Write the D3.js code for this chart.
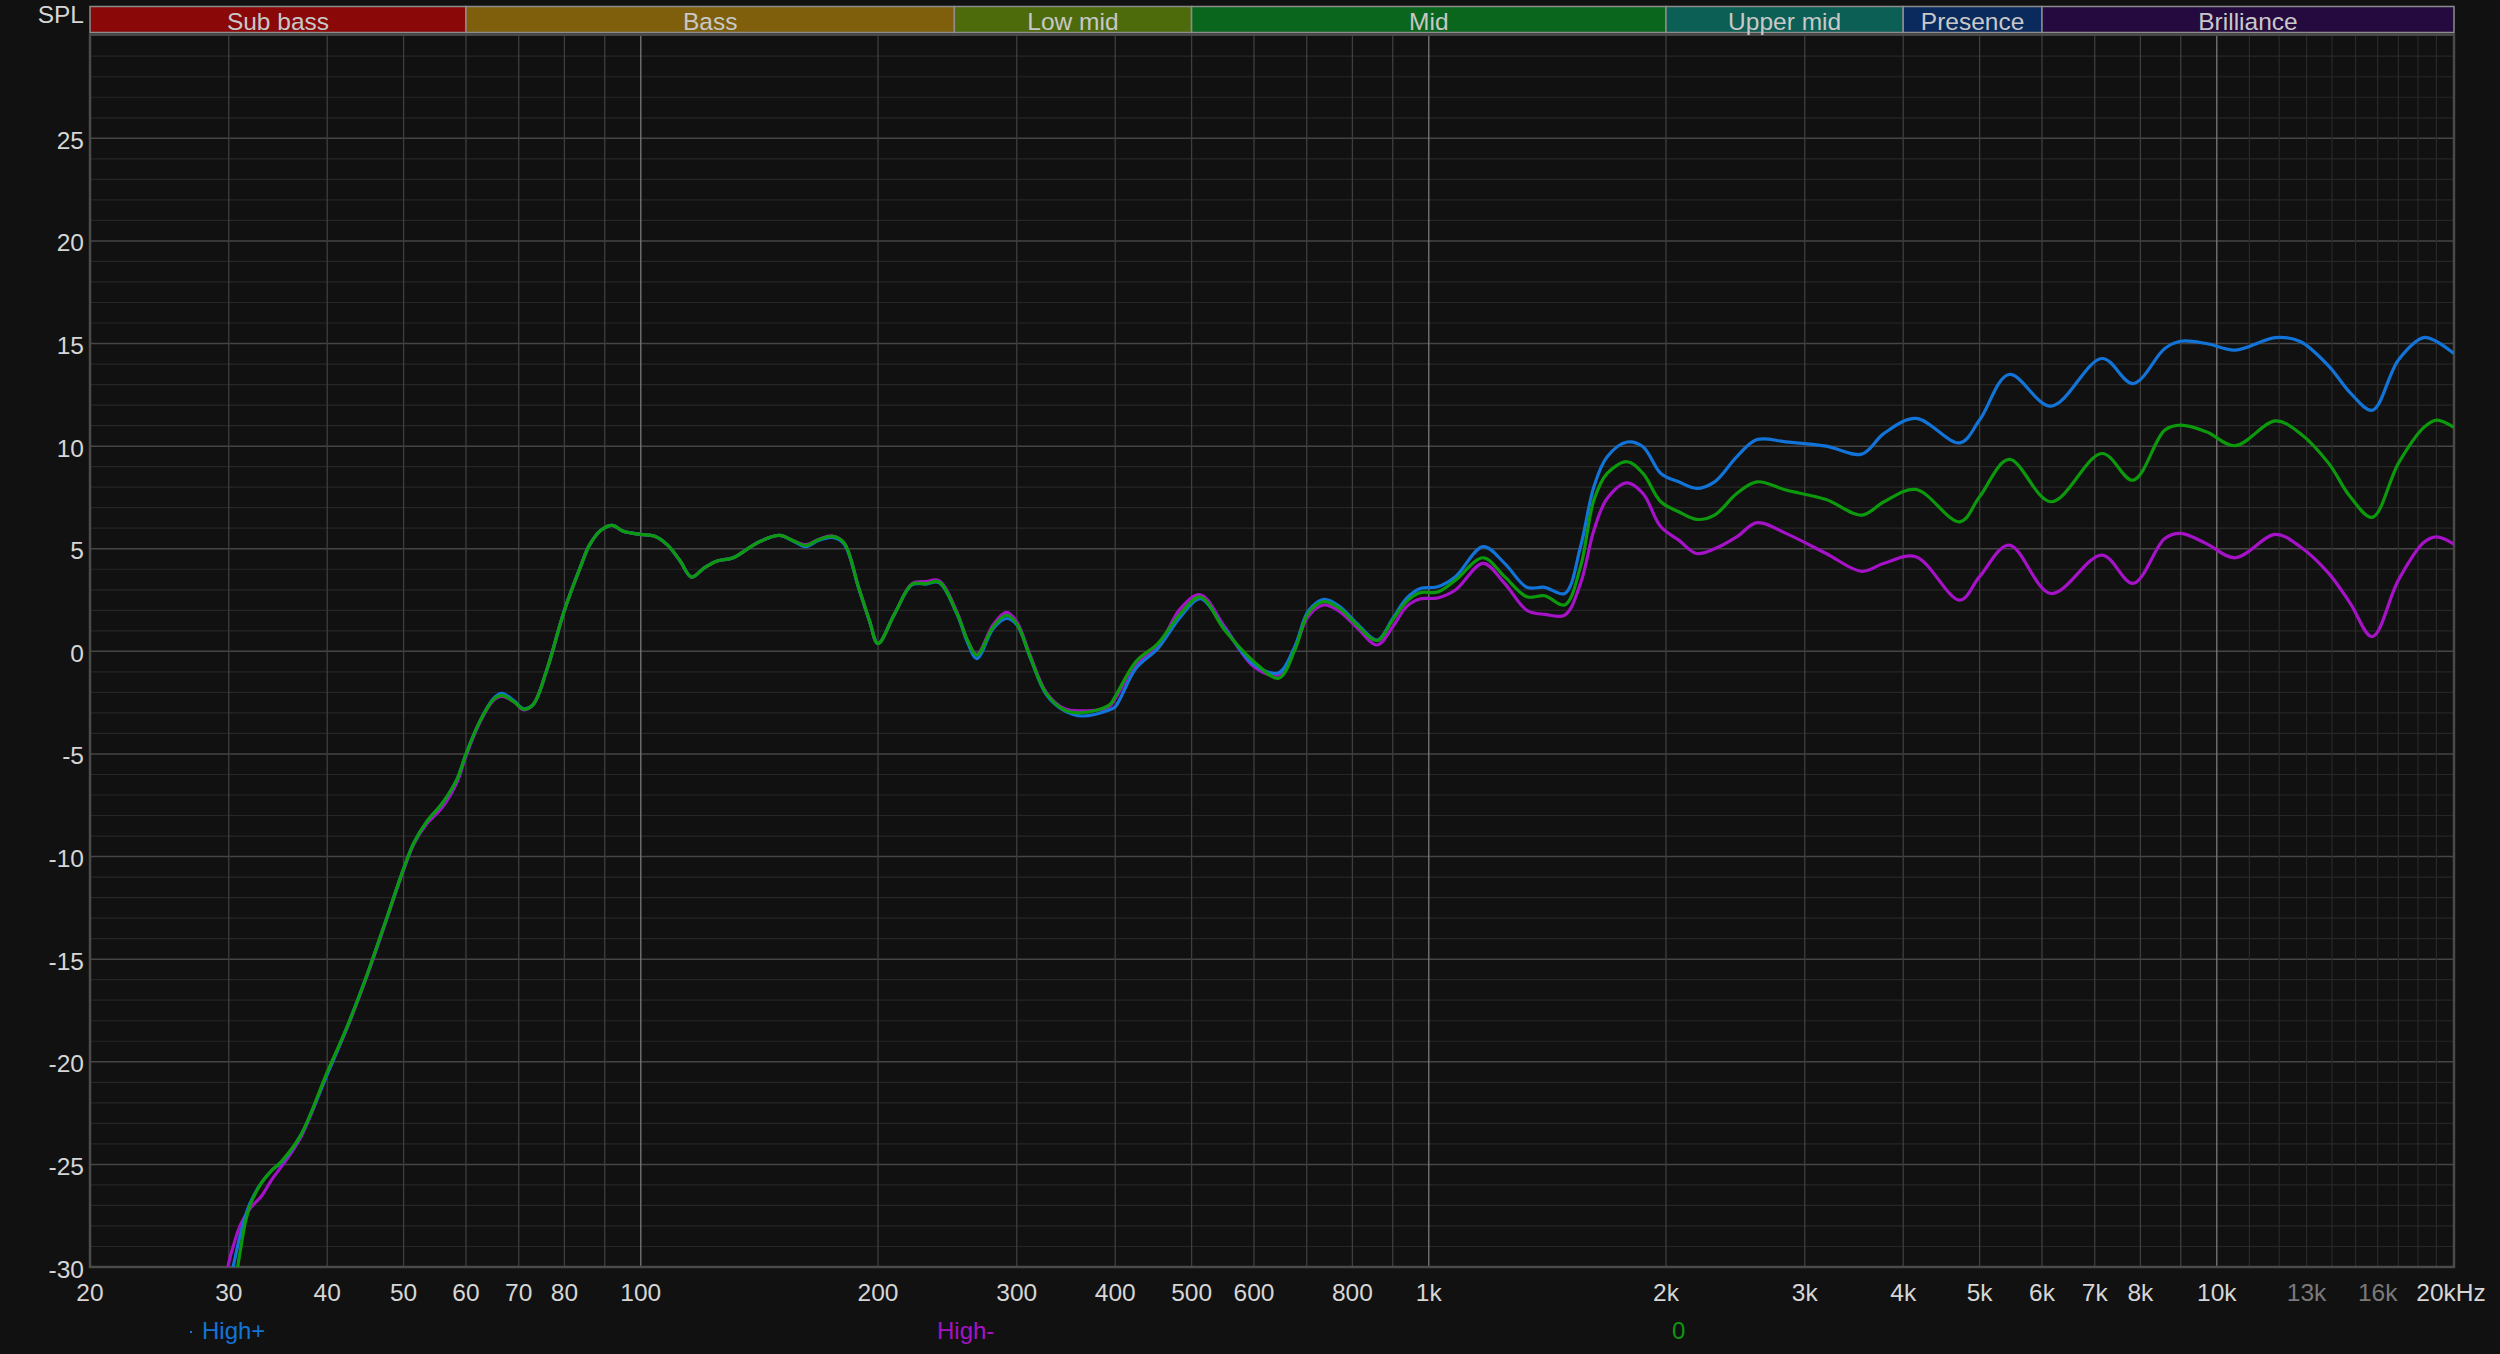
<!DOCTYPE html>
<html><head><meta charset="utf-8">
<script src="https://cdn.jsdelivr.net/npm/d3@7"></script>
<style>html,body{margin:0;padding:0;background:#111111;} svg{display:block;}</style>
</head><body>
<svg id="chart" width="2500" height="1354"></svg>
<script>
// ---------- data ----------
const freqs = [29.5,30,30.5,31,31.5,32,33,34,35,37,40,42.5,45,47.5,50,51.5,53.5,56,58.5,60,62.5,65,66.6,69,71,73,76,80,84,86,89,92,95,100,104,108,112,116,120.5,125,131,141,150,156,162,168,175,181,189,195,200,210,221,230,239,252,260,267,280,291,300,312,327,345,363,393,400,425,453,484,513,551,600,645,676,703,736,770,811,860,900,937,974,1026,1081,1172,1248,1332,1403,1488,1558,1620,1684,1786,1870,1970,2076,2187,2305,2459,2609,2839,3193,3543,3782,4150,4720,5000,5450,6160,7150,7830,8590,9000,9700,10550,11870,12760,13870,14770,15750,17000,18300,19000,20000];

const highPlus = [-33,-31.0,-29.7,-28.5,-27.5,-26.8,-25.9,-25.3,-24.9,-23.6,-20.6,-18.2,-15.7,-13.1,-10.6,-9.35,-8.3,-7.4,-6.2,-5.0,-3.4,-2.3,-2.05,-2.4,-2.8,-2.6,-0.9,2.0,4.2,5.15,5.9,6.14,5.85,5.7,5.62,5.2,4.45,3.62,4.08,4.4,4.56,5.32,5.65,5.38,5.1,5.4,5.55,5.25,3.1,1.5,0.38,1.84,3.25,3.28,3.35,1.8,0.4,-0.35,1.1,1.6,1.3,-0.3,-2.1,-2.9,-3.15,-2.86,-2.7,-0.83,0.14,1.68,2.57,1.1,-0.65,-1.04,0.23,1.95,2.53,2.2,1.35,0.55,1.6,2.58,3.05,3.15,3.64,5.1,4.29,3.12,3.12,2.82,5.1,8.02,9.48,10.2,9.97,8.67,8.26,7.94,8.26,9.48,10.32,10.21,10.0,9.61,10.62,11.35,10.16,11.27,13.49,11.95,14.27,13.05,14.76,15.11,15.0,14.68,15.29,15.1,13.9,12.6,11.75,14.2,15.29,15.1,14.51];

const highMinus = [-31.8,-29.8,-28.8,-28.0,-27.5,-27.1,-26.55,-25.75,-25.1,-23.7,-20.6,-18.25,-15.75,-13.15,-10.65,-9.4,-8.4,-7.6,-6.35,-5.1,-3.45,-2.4,-2.2,-2.45,-2.85,-2.6,-0.9,2.0,4.2,5.15,5.9,6.14,5.85,5.7,5.62,5.2,4.45,3.62,4.08,4.4,4.56,5.32,5.65,5.4,5.2,5.45,5.62,5.3,3.1,1.5,0.38,1.84,3.3,3.4,3.45,1.9,0.5,-0.15,1.3,1.9,1.45,-0.2,-2.0,-2.8,-2.9,-2.7,-2.3,-0.66,0.22,2.08,2.76,1.19,-0.75,-1.15,0.15,1.7,2.26,1.95,1.15,0.31,1.2,2.18,2.55,2.6,2.99,4.29,3.31,2.0,1.8,1.77,3.31,5.9,7.45,8.21,7.69,6.07,5.42,4.77,5.0,5.58,6.27,5.75,4.77,3.9,4.29,4.61,2.5,3.64,5.18,2.82,4.69,3.31,5.5,5.75,5.25,4.56,5.7,5.1,3.8,2.34,0.72,3.47,5.3,5.58,5.23];

const zeroCurve = [-34,-32.5,-31.0,-29.3,-27.8,-26.9,-25.9,-25.3,-24.85,-23.6,-20.5,-18.2,-15.7,-13.1,-10.6,-9.35,-8.3,-7.4,-6.2,-5.0,-3.4,-2.35,-2.15,-2.45,-2.82,-2.6,-0.9,2.0,4.2,5.15,5.9,6.14,5.85,5.7,5.62,5.2,4.45,3.62,4.08,4.4,4.56,5.32,5.65,5.4,5.16,5.44,5.6,5.3,3.1,1.52,0.38,1.84,3.27,3.3,3.38,1.84,0.5,-0.19,1.19,1.76,1.35,-0.27,-2.05,-2.86,-2.99,-2.62,-2.2,-0.5,0.38,1.84,2.65,1.03,-0.5,-1.31,0.06,1.85,2.42,2.1,1.28,0.52,1.53,2.42,2.86,2.89,3.47,4.56,3.64,2.66,2.71,2.26,4.12,7.37,8.67,9.24,8.67,7.29,6.8,6.43,6.64,7.69,8.26,7.86,7.4,6.64,7.29,7.89,6.31,7.53,9.35,7.29,9.64,8.34,10.78,11.02,10.7,10.02,11.23,10.62,9.16,7.53,6.53,9.16,10.9,11.27,10.91];

const seriesNames = ["High+","High-","0"];
const seriesColors = ["#1274d8","#a612c8","#0c990c"];

const bandNames = ["Sub bass","Bass","Low mid","Mid","Upper mid","Presence","Brilliance"];
const bandEdges = [20,60,250,500,2000,4000,6000,20000];
const bandColors = ["#8a0808","#7f5f0b","#4e6b0c","#0a661d","#0b5f55","#0a2a5e","#250a3f"];

const xTickValues = [20,30,40,50,60,70,80,100,200,300,400,500,600,800,1000,2000,3000,4000,5000,6000,7000,8000,10000,13000,16000,20000];
const xTickLabels = ["20","30","40","50","60","70","80","100","200","300","400","500","600","800","1k","2k","3k","4k","5k","6k","7k","8k","10k","13k","16k","20kHz"];
const xTickDim = [13000,16000];
const yTickValues = [-30,-25,-20,-15,-10,-5,0,5,10,15,20,25];

const gridMain = [100,1000,10000];
const gridMid = [30,40,50,60,70,80,90,200,300,400,500,600,700,800,900,2000,3000,4000,5000,6000,7000,8000,9000];
const gridFine = [11000,12000,13000,14000,15000,16000,17000,18000,19000];

// ---------- layout ----------
const L = 90, R = 2454, T = 35.7, B = 1267;
const svg = d3.select("#chart");
const FONT = "'Liberation Sans', Arial, sans-serif";

const x = d3.scaleLog().domain([20,20000]).range([L,R]);
const y = d3.scaleLinear().domain([-30,30]).range([B,T]);

svg.append("rect").attr("width",2500).attr("height",1354).attr("fill","#111111");

// horizontal grid
const minorY = d3.range(-29,30,1).filter(v => v % 5 !== 0);
svg.append("g").selectAll("line").data(minorY).join("line")
  .attr("x1",L).attr("x2",R).attr("y1",d=>y(d)).attr("y2",d=>y(d))
  .attr("stroke","#262626").attr("stroke-width",1.2);
svg.append("g").selectAll("line").data(yTickValues.filter(v=>v>-30)).join("line")
  .attr("x1",L).attr("x2",R).attr("y1",d=>y(d)).attr("y2",d=>y(d))
  .attr("stroke","#454545").attr("stroke-width",1.5);

// vertical grid
svg.append("g").selectAll("line").data(gridFine).join("line")
  .attr("x1",d=>x(d)).attr("x2",d=>x(d)).attr("y1",T).attr("y2",B)
  .attr("stroke","#2a2a2a").attr("stroke-width",1.2);
svg.append("g").selectAll("line").data(gridMid).join("line")
  .attr("x1",d=>x(d)).attr("x2",d=>x(d)).attr("y1",T).attr("y2",B)
  .attr("stroke","#3e3e3e").attr("stroke-width",1.3);
svg.append("g").selectAll("line").data(gridMain).join("line")
  .attr("x1",d=>x(d)).attr("x2",d=>x(d)).attr("y1",T).attr("y2",B)
  .attr("stroke","#7a7a7a").attr("stroke-width",1.3);

// frame
svg.append("rect").attr("x",L).attr("y",T-1).attr("width",R-L).attr("height",B-T+1)
  .attr("fill","none").attr("stroke","#4a4a4a").attr("stroke-width",2.5);

// band bar
const bands = bandNames.map((n,i)=>({name:n,f0:bandEdges[i],f1:bandEdges[i+1],color:bandColors[i]}));
const bg = svg.append("g");
bg.selectAll("rect").data(bands).join("rect")
  .attr("x",d=>x(d.f0)).attr("width",d=>x(d.f1)-x(d.f0))
  .attr("y",6.5).attr("height",26)
  .attr("fill",d=>d.color).attr("stroke","#8c8c8c").attr("stroke-width",1.5);
bg.selectAll("text").data(bands).join("text")
  .attr("x",d=>(x(d.f0)+x(d.f1))/2).attr("y",29.5)
  .attr("text-anchor","middle").attr("font-family",FONT).attr("font-size",24.5)
  .attr("fill","#c8c8c8").text(d=>d.name);

// clip
svg.append("clipPath").attr("id","plotClip").append("rect")
  .attr("x",L).attr("y",T).attr("width",R-L).attr("height",B-T);

// curves
const series = [highMinus, highPlus, zeroCurve];
const cols = [seriesColors[1], seriesColors[0], seriesColors[2]];
const line = d3.line().x(d=>x(d[0])).y(d=>y(d[1])).curve(d3.curveCatmullRom.alpha(0.5));
const cg = svg.append("g").attr("clip-path","url(#plotClip)");
series.forEach((vals,i)=>{
  cg.append("path").datum(freqs.map((f,j)=>[f,vals[j]]))
    .attr("d",line).attr("fill","none").attr("stroke",cols[i])
    .attr("stroke-width",3.2).attr("stroke-linejoin","round");
});

// y labels
svg.append("g").selectAll("text").data(yTickValues).join("text")
  .attr("x",84).attr("y",d=>y(d)+10.5).attr("text-anchor","end")
  .attr("font-family",FONT).attr("font-size",24.5).attr("fill","#d6d6d6")
  .text(d=>d);
svg.append("text").attr("x",84).attr("y",23).attr("text-anchor","end")
  .attr("font-family",FONT).attr("font-size",24.5).attr("fill","#d6d6d6").text("SPL");

// x labels
svg.append("g").selectAll("text").data(xTickValues).join("text")
  .attr("x",(d,i)=> i===xTickValues.length-1 ? x(d)-3 : x(d)).attr("y",1301)
  .attr("text-anchor","middle").attr("font-family",FONT).attr("font-size",24.5)
  .attr("fill",d=> xTickDim.includes(d) ? "#7a7a7a" : "#d6d6d6")
  .text((d,i)=>xTickLabels[i]);

// legend
const legendX = [202, 937, 1672];
svg.append("rect").attr("x",190).attr("y",1331).attr("width",2).attr("height",2).attr("fill",seriesColors[0]);
svg.append("g").selectAll("text").data(seriesNames).join("text")
  .attr("x",(d,i)=>legendX[i]).attr("y",1339)
  .attr("font-family",FONT).attr("font-size",24)
  .attr("fill",(d,i)=>seriesColors[i]).text(d=>d);
</script>
</body></html>
